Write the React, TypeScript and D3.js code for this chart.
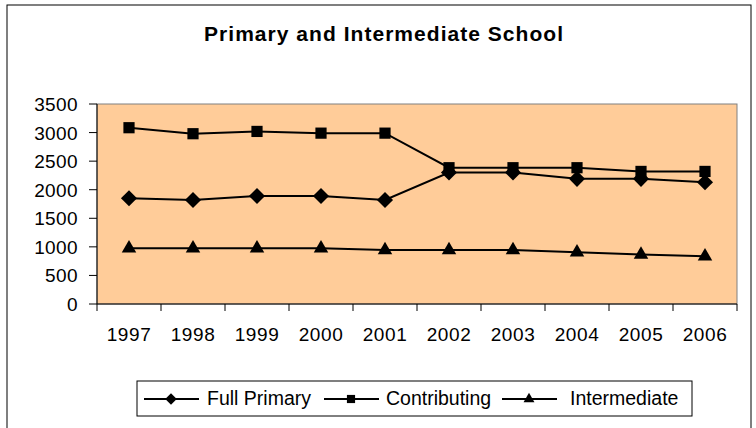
import React from 'react';
import * as d3 from 'd3';

const years = ['1997', '1998', '1999', '2000', '2001', '2002', '2003', '2004', '2005', '2006'];
const fullPrimary = [1850, 1820, 1890, 1890, 1820, 2300, 2300, 2190, 2190, 2130];
const contributing = [3085, 2980, 3020, 2990, 2990, 2385, 2385, 2385, 2320, 2320];
const intermediate = [975, 975, 975, 975, 945, 945, 945, 905, 865, 835];
const yTicks = [0, 500, 1000, 1500, 2000, 2500, 3000, 3500];

const series = [
  { name: 'Full Primary', values: fullPrimary, symbol: d3.symbolDiamond2, size: 165 },
  { name: 'Contributing', values: contributing, symbol: d3.symbolSquare2, size: 160 },
  { name: 'Intermediate', values: intermediate, symbol: d3.symbolTriangle2, size: 150 },
];

const App: React.FC = () => {
  const width = 756;
  const height = 428;
  const plot = { left: 97, top: 104, right: 737, bottom: 304 };

  const x = d3.scaleBand<string>().domain(years).range([plot.left, plot.right]);
  const y = d3.scaleLinear().domain([0, 3500]).range([plot.bottom, plot.top]);

  const line = d3.line<number>()
    .x((_, i) => (x(years[i]) as number) + x.bandwidth() / 2)
    .y(d => y(d));

  const font = '"Liberation Sans", Arial, sans-serif';

  // legend layout
  const legendY = 399;
  const legendItems = [
    { x: 144, textX: 207 },
    { x: 324, textX: 386 },
    { x: 502, textX: 570 },
  ];

  return (
    <svg width={width} height={height} style={{ position: 'absolute', left: 0, top: 0, background: 'white' }}>
      <rect x={7} y={5} width={744} height={430} fill="white" stroke="black" strokeWidth={1} />
      <text x={383.5} y={41} textAnchor="middle" fontFamily={font} fontWeight="bold" fontSize={21}
        textLength={359} lengthAdjust="spacing">
        Primary and Intermediate School
      </text>

      <rect x={plot.left} y={plot.top} width={plot.right - plot.left} height={plot.bottom - plot.top}
        fill="#FFCC99" stroke="#808080" strokeWidth={1} />

      {/* y axis */}
      <line x1={plot.left} x2={plot.left} y1={plot.top} y2={plot.bottom} stroke="black" />
      {yTicks.map(t => (
        <g key={t}>
          <line x1={plot.left - 8} x2={plot.left} y1={y(t)} y2={y(t)} stroke="black" />
          <text x={78} y={y(t) + 7} textAnchor="end" fontFamily={font} fontSize={19}
            letterSpacing={0.4}>{t}</text>
        </g>
      ))}

      {/* x axis */}
      <line x1={plot.left} x2={plot.right} y1={plot.bottom} y2={plot.bottom} stroke="black" />
      {years.map(yr => (
        <g key={yr}>
          <line x1={x(yr) as number} x2={x(yr) as number} y1={plot.bottom} y2={plot.bottom + 7} stroke="black" />
          <text x={(x(yr) as number) + x.bandwidth() / 2} y={341} textAnchor="middle" fontFamily={font} fontSize={19}
            letterSpacing={0.6}>{yr}</text>
        </g>
      ))}
      <line x1={plot.right} x2={plot.right} y1={plot.bottom} y2={plot.bottom + 7} stroke="black" />

      {series.map(s => (
        <g key={s.name}>
          <path d={line(s.values) as string} fill="none" stroke="black" strokeWidth={2} />
          {s.values.map((v, i) => (
            <path key={i}
              transform={`translate(${(x(years[i]) as number) + x.bandwidth() / 2},${y(v)})`}
              d={d3.symbol().type(s.symbol).size(s.size)() as string} fill="black" />
          ))}
        </g>
      ))}

      {/* legend */}
      <rect x={137} y={381} width={555} height={35} fill="white" stroke="black" strokeWidth={1} />
      {series.map((s, i) => (
        <g key={s.name}>
          <line x1={legendItems[i].x} x2={legendItems[i].x + 55} y1={legendY} y2={legendY} stroke="black" strokeWidth={2} />
          <path transform={`translate(${legendItems[i].x + 27},${legendY})`}
            d={d3.symbol().type(s.symbol).size(85)() as string} fill="black" />
          <text x={legendItems[i].textX} y={legendY + 6} fontFamily={font} fontSize={19.5}>{s.name}</text>
        </g>
      ))}
    </svg>
  );
};

export default App;
